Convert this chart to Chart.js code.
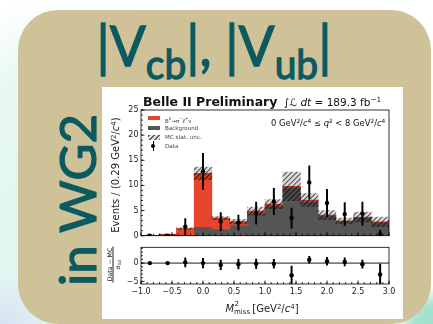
<!DOCTYPE html>
<html>
<head>
<meta charset="utf-8">
<script src="https://cdn.jsdelivr.net/npm/chart.js@4.4.1/dist/chart.umd.min.js"></script>
<style>
  html,body{margin:0;padding:0;}
  body{width:433px;height:324px;overflow:hidden;position:relative;
    background:
      radial-gradient(circle at 448px 340px, #9edfca 0, #a5e2cf 38px, rgba(165,226,207,0) 56px),
      radial-gradient(circle at 0px 330px, rgba(214,220,246,0.9) 0, rgba(214,220,246,0) 60px),
      radial-gradient(ellipse 300px 290px at 90px 280px, #e0f7ee 0%, #e6f8f1 70%, rgba(255,255,255,0) 100%),
      #ffffff;}
  #card{position:absolute;left:18px;top:10px;width:413px;height:314px;border-radius:40px;background:#cfc298;}
  #title{position:absolute;left:0;top:18px;width:428px;text-align:center;font-family:Lato,sans-serif;
    font-size:56px;line-height:54px;color:#0b5a60;white-space:nowrap;-webkit-text-stroke:1.3px #0b5a60;
    transform:scaleX(0.95);transform-origin:214px 0;}
  #title sub{font-size:41px;line-height:0;vertical-align:-13px;}
  #side{position:absolute;left:-23px;top:174px;width:200px;height:52px;line-height:52px;text-align:center;
    font-family:Lato,sans-serif;font-size:51px;color:#0b5a60;-webkit-text-stroke:1.2px #0b5a60;
    transform:rotate(-90deg);white-space:nowrap;}
  #plot{position:absolute;left:102px;top:87px;width:301px;height:232px;background:#fff;}
  canvas{position:absolute;}
  .t{position:absolute;font-family:"DejaVu Sans",sans-serif;color:#111;white-space:nowrap;}
  .t sup{font-size:0.7em;line-height:0;vertical-align:0.5em;}
  .t sub{font-size:0.7em;line-height:0;vertical-align:-0.25em;}
  #btitle{left:143px;top:95px;font-weight:bold;font-size:12.5px;line-height:13px;}
  #lumi{left:284px;top:96px;font-size:10.5px;line-height:12px;}
  #qsq{left:271px;top:118px;font-size:8.4px;line-height:10px;}
  .leg{position:absolute;font-family:"DejaVu Sans",sans-serif;font-size:5.6px;line-height:7px;color:#444;left:165px;white-space:nowrap;}
  .sw{position:absolute;left:148px;width:12px;height:4px;}
  #ytitle{left:56px;top:169px;width:120px;text-align:center;font-size:10px;line-height:12px;transform:rotate(-90deg);color:#222;}
  #rtitle{left:88px;top:257px;width:50px;text-align:center;font-size:6.2px;line-height:7px;transform:rotate(-90deg);color:#222;}
  #rtitle .num{border-bottom:0.7px solid #222;display:inline-block;padding:0 1px;}
  #xtitle{left:202px;top:302px;width:120px;text-align:center;font-size:10px;line-height:13px;color:#222;}
  .ss{position:relative;display:inline-block;width:15px;height:10px;}
  .ss .up{position:absolute;left:0.5px;top:-1px;font-size:7px;line-height:7px;}
  .ss .dn{position:absolute;left:0;top:6.5px;font-size:7px;line-height:7px;}
</style>
</head>
<body>
<div id="card"></div>
<div id="title">|V<sub>cb</sub>|, |V<sub>ub</sub>|</div>
<div id="side">in WG2</div>
<div id="plot"></div>
<canvas id="main" width="301" height="156" style="left:102px;top:87px;width:301px;height:156px"></canvas>
<canvas id="ratio" width="301" height="79" style="left:102px;top:240px;width:301px;height:79px"></canvas>

<div class="t" id="btitle">Belle II Preliminary</div>
<div class="t" id="lumi">∫<i>ℒ</i> <i>dt</i> = 189.3 fb<sup>−1</sup></div>
<div class="t" id="qsq">0 GeV<sup>2</sup>/<i>c</i><sup>4</sup> ≤ <i>q</i><sup>2</sup> &lt; 8 GeV<sup>2</sup>/<i>c</i><sup>4</sup></div>

<div class="sw" style="top:116px;background:#e5452c"></div>
<div class="leg" style="top:115px">B<sup style="font-size:0.7em">0</sup>→π<sup style="font-size:0.7em">−</sup>ℓ<sup style="font-size:0.7em">+</sup>ν</div>
<div class="sw" style="top:126px;background:#555"></div>
<div class="leg" style="top:125px">Background</div>
<div class="sw" id="hsw" style="top:134.5px;height:5px"></div>
<div class="leg" style="top:134px">MC stat. unc.</div>
<div class="sw" style="top:141px;left:153px;width:1.3px;height:10px;background:#000"></div>
<div class="sw" style="top:144px;left:152px;width:4px;height:4px;border-radius:50%;background:#000;margin-left:-0.7px"></div>
<div class="leg" style="top:143px">Data</div>

<div class="t" id="ytitle">Events / (0.29 GeV<sup>2</sup>/<i>c</i><sup>4</sup>)</div>
<div class="t" id="rtitle"><span class="num">Data − MC</span><br>σ<sub>tot</sub></div>
<div class="t" id="xtitle"><i>M</i><span class="ss"><span class="up">2</span><span class="dn">miss</span></span> [GeV<sup>2</sup>/<i>c</i><sup>4</sup>]</div>

<script>
// ---------------- data ----------------
const binCenters = [-0.857, -0.571, -0.286, 0.0, 0.286, 0.571, 0.857, 1.143, 1.429, 1.714, 2.0, 2.286, 2.571, 2.857];
const background = [0, 0, 0.1, 1.8, 1.3, 2.1, 4.5, 5.9, 9.6, 6.8, 4.0, 2.85, 3.6, 2.65];
const signal     = [0.05, 0.25, 1.3, 10.6, 2.2, 0.7, 0.4, 0.4, 0.2, 0.3, 0.1, 0.1, 0.1, 0.1];
const mcUnc      = [0.02, 0.05, 0.15, 1.25, 0.3, 0.45, 0.8, 0.9, 2.85, 1.3, 0.9, 0.55, 1.0, 0.95];
const dataVals   = [0, 0, 1.8, 12.8, 2.8, 2.6, 4.5, 6.8, 3.5, 10.6, 6.5, 4.3, 4.4, 0.3];
const dataErr    = [0, 0, 1.6, 3.6, 1.8, 1.5, 2.2, 2.6, 2.0, 3.3, 2.7, 2.3, 2.3, 0.75];
const pulls      = [0, 0, 0.2, 0, -0.5, -0.3, -0.2, -0.2, -3.3, 0.9, 0.5, 0.3, -0.3, -3.1];
const pullErr    = [0.1, 0.1, 1.25, 1.3, 1.3, 1.3, 1.3, 1.2, 2.5, 0.95, 1.1, 1.1, 1.1, 2.85];
const xTickLabels = [-1.0, -0.5, 0.0, 0.5, 1.0, 1.5, 2.0, 2.5, 3.0];
const yTickLabels = [0, 5, 10, 15, 20, 25];
const ratioTickLabels = [-5, 0];

// ---------------- helpers ----------------
const RED = '#e5452c', GREY = '#555555';
function hatchPattern(){
  const c = document.createElement('canvas'); c.width = 5; c.height = 5;
  const g = c.getContext('2d');
  g.fillStyle = 'rgba(0,0,0,0.14)'; g.fillRect(0,0,5,5);
  g.strokeStyle = 'rgba(0,0,0,0.62)'; g.lineWidth = 1.1;
  g.beginPath();
  g.moveTo(-1,6); g.lineTo(6,-1);
  g.moveTo(-1,1); g.lineTo(1,-1);
  g.moveTo(4,6); g.lineTo(6,4);
  g.stroke();
  return g.createPattern(c,'repeat');
}
const HATCH = hatchPattern();
document.getElementById('hsw').style.background =
  'repeating-linear-gradient(-45deg, rgba(0,0,0,0.65) 0 1px, rgba(0,0,0,0.12) 1px 3.5px)';

const fmt = v => (Math.abs(v) < 1e-9 ? '0.0' : v.toFixed(1)).replace('-', '\u2212');
const range = (a,b,s) => { const r=[]; for(let v=a; v<=b+1e-9; v+=s) r.push(+v.toFixed(4)); return r; };

const frameTicks = {
  id: 'frameTicks',
  afterDatasetsDraw(chart, args, o){
    const {ctx, chartArea:a, scales:{x, y}} = chart;
    ctx.save();
    ctx.strokeStyle = '#000'; ctx.lineWidth = 0.8;
    ctx.strokeRect(a.left, a.top, a.right - a.left, a.bottom - a.top);
    ctx.beginPath();
    for (const v of o.xMinor){ const p = x.getPixelForValue(v); ctx.moveTo(p, a.bottom); ctx.lineTo(p, a.bottom - 2); }
    for (const v of o.xMajor){ const p = x.getPixelForValue(v); ctx.moveTo(p, a.bottom); ctx.lineTo(p, a.bottom - 3.5); }
    for (const v of o.yMinor){ const p = y.getPixelForValue(v); if(p<a.top||p>a.bottom) continue; ctx.moveTo(a.left, p); ctx.lineTo(a.left + 2, p); }
    for (const v of o.yMajor){ const p = y.getPixelForValue(v); ctx.moveTo(a.left, p); ctx.lineTo(a.left + 3.5, p); }
    ctx.stroke();
    ctx.restore();
  }
};
Chart.register(frameTicks);

const tickFont = {family: 'DejaVu Sans', size: 8};
const noGrid = {display:false, drawTicks:false, tickLength:0};
const xy = (vals) => binCenters.map((x,i) => ({x, y: vals[i]}));

// ---------------- main panel ----------------
new Chart(document.getElementById('main'), {
  type: 'bar',
  data: {
    datasets: [
      {type:'line', showLine:false, data: xy(dataVals), pointRadius:2.2, pointBackgroundColor:'#000', pointBorderWidth:0},
      {type:'bar', grouped:false, barThickness:1.3, backgroundColor:'#000',
        data: binCenters.map((x,i) => ({x, y:[dataVals[i]-dataErr[i], dataVals[i]+dataErr[i]]}))},
      {type:'bar', grouped:false, barPercentage:1, categoryPercentage:1, backgroundColor:HATCH,
        data: binCenters.map((x,i) => { const t = background[i]+signal[i]; return {x, y:[t-mcUnc[i], t+mcUnc[i]]}; })},
      {type:'bar', grouped:false, barPercentage:1, categoryPercentage:1, backgroundColor:RED,
        data: binCenters.map((x,i) => ({x, y:[background[i], background[i]+signal[i]]}))},
      {type:'bar', grouped:false, barPercentage:1, categoryPercentage:1, backgroundColor:GREY,
        data: binCenters.map((x,i) => ({x, y:[0, background[i]]}))}
    ]
  },
  options: {
    responsive:false, animation:false, devicePixelRatio:1,
    layout:{padding:{left:0, top:23, right:14, bottom:4}},
    plugins:{legend:{display:false}, tooltip:{enabled:false},
      frameTicks:{xMajor:xTickLabels, xMinor:range(-1,3,0.1), yMajor:yTickLabels, yMinor:range(0,25,1)}},
    scales:{
      x:{type:'linear', min:-1, max:3, offset:false, display:false},
      y:{type:'linear', min:0, max:25, grid:noGrid, border:{display:false},
         afterBuildTicks: s => { s.ticks = yTickLabels.map(v => ({value:v})); },
         afterFit: s => { s.width = 39; },
         ticks:{font:tickFont, color:'#222', padding:2.5}}
    }
  }
});

// ---------------- ratio (pull) panel ----------------
new Chart(document.getElementById('ratio'), {
  type: 'bar',
  data: {
    datasets: [
      {type:'line', showLine:false, data: xy(pulls), pointRadius:2.2, pointBackgroundColor:'#000', pointBorderWidth:0},
      {type:'bar', grouped:false, barThickness:1.3, backgroundColor:'#000',
        data: binCenters.map((x,i) => ({x, y:[pulls[i]-pullErr[i], pulls[i]+pullErr[i]]}))},
      {type:'line', data:[{x:-1, y:0},{x:3, y:0}], borderColor:'#000', borderWidth:0.9, pointRadius:0}
    ]
  },
  options: {
    responsive:false, animation:false, devicePixelRatio:1,
    layout:{padding:{left:0, top:6, right:14, bottom:0}},
    plugins:{legend:{display:false}, tooltip:{enabled:false},
      frameTicks:{xMajor:xTickLabels, xMinor:range(-1,3,0.1), yMajor:ratioTickLabels, yMinor:range(-5,4,1)}},
    scales:{
      x:{type:'linear', min:-1, max:3, offset:false, grid:noGrid, border:{display:false},
         afterBuildTicks: s => { s.ticks = xTickLabels.map(v => ({value:v})); },
         afterFit: s => { s.height = 35; },
         ticks:{font:tickFont, color:'#222', padding:3, maxRotation:0, callback: v => fmt(v)}},
      y:{type:'linear', min:-5.7, max:4.3, grid:noGrid, border:{display:false},
         afterBuildTicks: s => { s.ticks = ratioTickLabels.map(v => ({value:v})); },
         afterFit: s => { s.width = 39; },
         ticks:{font:tickFont, color:'#222', padding:2.5, callback: v => String(v).replace('-', '\u2212')}}
    }
  }
});
</script>
</body>
</html>
